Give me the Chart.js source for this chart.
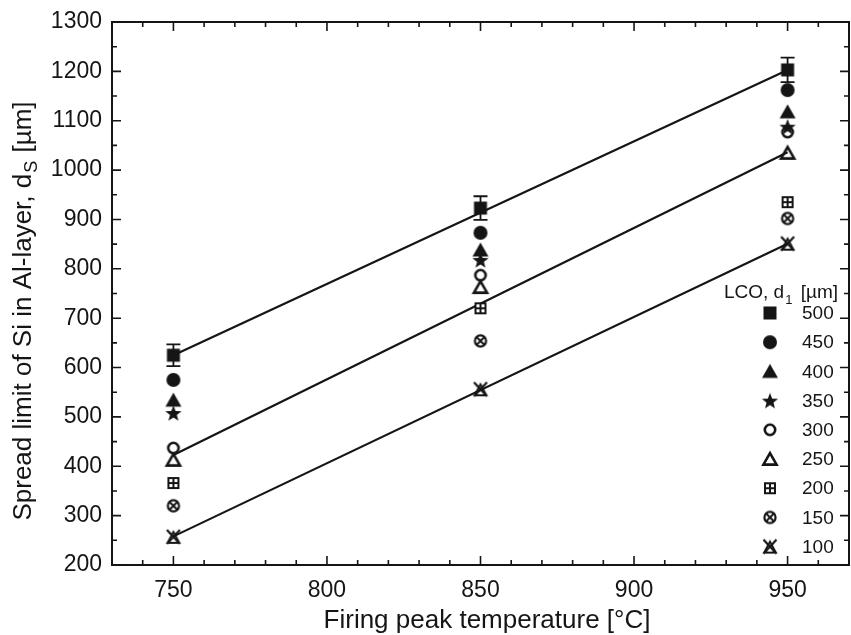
<!DOCTYPE html>
<html>
<head>
<meta charset="utf-8">
<script src="https://cdn.jsdelivr.net/npm/chart.js@4.4.1/dist/chart.umd.min.js"></script>
<style>
  html, body { margin: 0; padding: 0; background: #fff; }
  #wrap { width: 851px; height: 635px; position: relative; }
</style>
</head>
<body>
<div id="wrap"><canvas id="c" width="851" height="635"></canvas></div>
<script>
// ---- data ----
const temps = [750, 850, 950];
const seriesLabels = ['500', '450', '400', '350', '300', '250', '200', '150', '100'];
const d500 = [625, 923, 1203];
const d450 = [575, 873, 1162];
const d400 = [534, 838, 1118];
const d350 = [508, 818, 1088];
const d300 = [437, 787, 1077];
const d250 = [413, 763, 1035];
const d200 = [366, 720, 935];
const d150 = [320, 654, 902];
const d100 = [257, 556, 851];
const err500 = [22, 24, 25];
const fitTemps = [750, 950];
const fitUpper = [625, 1203];
const fitMiddle = [423, 1036];
const fitLower = [258, 851];
const xTickValues = [750, 800, 850, 900, 950];
const yTickValues = [200, 300, 400, 500, 600, 700, 800, 900, 1000, 1100, 1200, 1300];
const legendTitle = ['LCO, d', '1', ' [µm]'];
const yTitle = ['Spread limit of Si in Al-layer, d', 'S', ' [µm]'];
const xTitle = 'Firing peak temperature [°C]';

const INK = '#151515';
const FONT = '"Liberation Sans", Arial, sans-serif';

// ---- marker images ----
function makeMarker(kind) {
  const s = 20;
  const cv = document.createElement('canvas');
  cv.width = s; cv.height = s;
  const c = cv.getContext('2d');
  c.translate(s / 2, s / 2);
  c.fillStyle = INK; c.strokeStyle = INK;
  c.lineJoin = 'miter';
  if (kind === 'sq') {
    c.fillRect(-6.5, -6.5, 13, 13);
  } else if (kind === 'ci') {
    c.beginPath(); c.arc(0, 0, 7, 0, Math.PI * 2); c.fill();
  } else if (kind === 'tr') {
    c.beginPath(); c.moveTo(0, -7.5); c.lineTo(8, 6.5); c.lineTo(-8, 6.5); c.closePath(); c.fill();
  } else if (kind === 'st') {
    c.beginPath();
    for (let i = 0; i < 10; i++) {
      const r = i % 2 === 0 ? 8.5 : 3.6;
      const a = -Math.PI / 2 + i * Math.PI / 5;
      const px = r * Math.cos(a), py = r * Math.sin(a) + 0.8;
      if (i === 0) c.moveTo(px, py); else c.lineTo(px, py);
    }
    c.closePath(); c.fill();
  } else if (kind === 'oci') {
    c.lineWidth = 2.6;
    c.beginPath(); c.arc(0, 0, 5.2, 0, Math.PI * 2); c.stroke();
  } else if (kind === 'otr') {
    c.lineWidth = 2.6;
    c.beginPath(); c.moveTo(0, -5.8); c.lineTo(6.6, 5.6); c.lineTo(-6.6, 5.6); c.closePath(); c.stroke();
  } else if (kind === 'bp') {
    c.fillRect(-6, -6, 12, 12);
    c.fillStyle = '#fff';
    c.fillRect(-4, -4, 3, 3); c.fillRect(1, -4, 3, 3);
    c.fillRect(-4, 1, 3, 3); c.fillRect(1, 1, 3, 3);
  } else if (kind === 'cx') {
    c.lineWidth = 2.2;
    c.beginPath(); c.arc(0, 0, 5.6, 0, Math.PI * 2); c.stroke();
    c.lineWidth = 2;
    c.beginPath();
    c.moveTo(-4, -4); c.lineTo(4, 4); c.moveTo(4, -4); c.lineTo(-4, 4); c.stroke();
  } else if (kind === 'xt') {
    c.lineWidth = 2.2;
    c.beginPath(); c.moveTo(-6.5, -7); c.lineTo(6.5, 7); c.moveTo(6.5, -7); c.lineTo(-6.5, 7); c.stroke();
    c.lineWidth = 1.8;
    c.beginPath(); c.moveTo(0, -5); c.lineTo(6, 6); c.lineTo(-6, 6); c.closePath(); c.stroke();
  }
  return cv;
}

const seriesValues = [d500, d450, d400, d350, d300, d250, d200, d150, d100];
const markerKinds = ['sq', 'ci', 'tr', 'st', 'oci', 'otr', 'bp', 'cx', 'xt'];
const markerImgs = markerKinds.map(makeMarker);

function pts(xs, ys) { return xs.map((x, i) => ({ x: x, y: ys[i] })); }

const fitLine = (ys) => ({
  type: 'line', data: pts(fitTemps, ys), showLine: true, borderColor: INK, borderWidth: 2.2,
  pointRadius: 0, pointHoverRadius: 0, fill: false, order: 2, isFit: true
});

const datasets = [fitLine(fitUpper), fitLine(fitMiddle), fitLine(fitLower)];
seriesValues.forEach((vals, i) => {
  datasets.push({
    label: seriesLabels[i], data: pts(temps, vals), showLine: false,
    pointStyle: markerImgs[i], pointRadius: 7, pointHoverRadius: 7,
    borderColor: INK, backgroundColor: INK, order: 1
  });
});

// ---- plugins ----
const decor = {
  id: 'decor',
  afterDatasetsDraw(chart) {
    const ctx = chart.ctx, xs = chart.scales.x, ys = chart.scales.y;
    ctx.save();
    ctx.strokeStyle = INK; ctx.lineWidth = 1.8;
    temps.forEach((t, i) => {
      const px = xs.getPixelForValue(t);
      const top = ys.getPixelForValue(d500[i] + err500[i]);
      const bot = ys.getPixelForValue(d500[i] - err500[i]);
      ctx.beginPath();
      ctx.moveTo(px, top); ctx.lineTo(px, bot);
      ctx.moveTo(px - 7, top); ctx.lineTo(px + 7, top);
      ctx.moveTo(px - 7, bot); ctx.lineTo(px + 7, bot);
      ctx.stroke();
    });
    ctx.restore();
  },
  afterDraw(chart) {
    const ctx = chart.ctx, xs = chart.scales.x, ys = chart.scales.y;
    const a = chart.chartArea;
    ctx.save();
    ctx.strokeStyle = INK; ctx.lineWidth = 2;
    ctx.strokeRect(a.left, a.top, a.right - a.left, a.bottom - a.top);
    ctx.lineWidth = 1.6;
    ctx.beginPath();
    const major = 9, minor = 5;
    for (let v = Math.ceil(xs.min / 10) * 10; v <= xs.max; v += 10) {
      const px = xs.getPixelForValue(v);
      const len = xTickValues.includes(v) ? major : minor;
      ctx.moveTo(px, a.bottom); ctx.lineTo(px, a.bottom - len);
      ctx.moveTo(px, a.top); ctx.lineTo(px, a.top + len);
    }
    for (let v = ys.min; v <= ys.max; v += 50) {
      const py = ys.getPixelForValue(v);
      const len = yTickValues.includes(v) ? major : minor;
      ctx.moveTo(a.left, py); ctx.lineTo(a.left + len, py);
      ctx.moveTo(a.right, py); ctx.lineTo(a.right - len, py);
    }
    ctx.stroke();

    // axis titles
    ctx.fillStyle = INK;
    ctx.textBaseline = 'alphabetic';
    ctx.font = '26px ' + FONT;
    ctx.textAlign = 'center';
    ctx.fillText(xTitle, 487, 628);

    const bigF = '26px ' + FONT, subF = '18px ' + FONT;
    ctx.font = bigF; const w0 = ctx.measureText(yTitle[0]).width, w2 = ctx.measureText(yTitle[2]).width;
    ctx.font = subF; const w1 = ctx.measureText(yTitle[1]).width;
    const tw = w0 + w1 + w2;
    ctx.save();
    ctx.translate(31, 312);
    ctx.rotate(-Math.PI / 2);
    ctx.textAlign = 'left';
    let x0 = -tw / 2;
    ctx.font = bigF; ctx.fillText(yTitle[0], x0, 0); x0 += w0;
    ctx.font = subF; ctx.fillText(yTitle[1], x0 + 1, 6); x0 += w1 + 2;
    ctx.font = bigF; ctx.fillText(yTitle[2], x0, 0);
    ctx.restore();

    // legend
    ctx.textAlign = 'left';
    const tF = '19px ' + FONT, tS = '13px ' + FONT;
    let lx = 724;
    ctx.font = tF; ctx.fillText(legendTitle[0], lx, 298); lx += ctx.measureText(legendTitle[0]).width;
    ctx.font = tS; ctx.fillText(legendTitle[1], lx + 1, 304); lx += ctx.measureText(legendTitle[1]).width + 4;
    ctx.font = tF; ctx.fillText(legendTitle[2], lx, 298);

    ctx.font = '19px ' + FONT;
    ctx.textBaseline = 'middle';
    const ds = chart.data.datasets.filter(d => !d.isFit);
    ds.forEach((d, i) => {
      const cy = 313 + i * 29.2;
      const img = d.pointStyle;
      ctx.drawImage(img, 770 - img.width / 2, cy - img.height / 2);
      ctx.fillText(d.label, 802, cy + 1);
    });
    ctx.restore();
  }
};

const tickFont = { family: FONT, size: 23 };
const plainLabel = (v) => String(v);

new Chart(document.getElementById('c'), {
  type: 'scatter',
  data: { datasets: datasets },
  options: {
    responsive: false,
    animation: false,
    devicePixelRatio: 1,
    layout: { autoPadding: false, padding: { left: 0, top: 22, right: 2, bottom: 0 } },
    plugins: { legend: { display: false }, tooltip: { enabled: false } },
    scales: {
      x: {
        type: 'linear', min: 730, max: 970,
        grid: { display: false, drawTicks: false }, border: { display: false },
        afterBuildTicks: (s) => { s.ticks = xTickValues.map(v => ({ value: v })); },
        afterFit: (s) => { s.height = 70; s.paddingLeft = 0; s.paddingRight = 0; },
        ticks: { font: tickFont, color: INK, padding: 12, autoSkip: false, maxRotation: 0, callback: plainLabel }
      },
      y: {
        type: 'linear', min: 200, max: 1300,
        grid: { display: false, drawTicks: false }, border: { display: false },
        afterBuildTicks: (s) => { s.ticks = yTickValues.map(v => ({ value: v })); },
        afterFit: (s) => { s.width = 112; s.paddingTop = 0; s.paddingBottom = 0; },
        ticks: { font: tickFont, color: INK, padding: 10, autoSkip: false, callback: plainLabel }
      }
    }
  },
  plugins: [decor]
});
</script>
</body>
</html>
